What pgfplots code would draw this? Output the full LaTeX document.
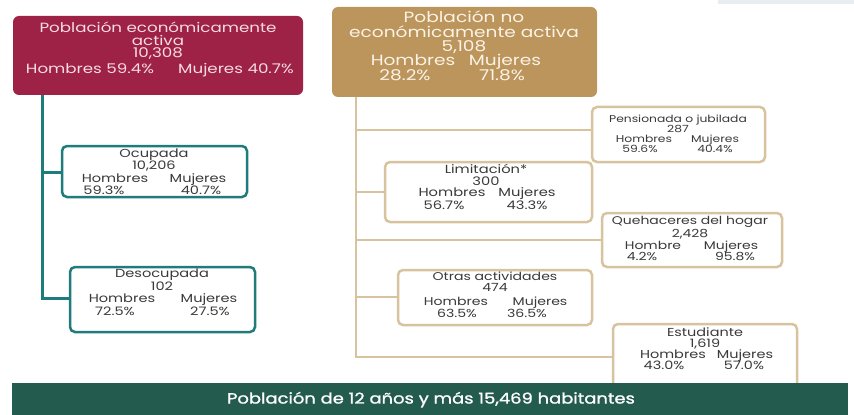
\documentclass[border=0pt]{standalone}
\usepackage{pgfplots}
\pgfplotsset{compat=1.18}
\usepackage{fontspec}
\setmainfont{Poppins}
\newfontfamily\pop[FakeStretch=1.25]{Poppins}
\newfontfamily\popb[FakeStretch=1.2,FakeBold=1.2]{Poppins}
\definecolor{guinda}{HTML}{9E2146}
\definecolor{guindatxt}{HTML}{F6DCE3}
\definecolor{dorado}{HTML}{BC955C}
\definecolor{doradotxt}{HTML}{FBF3E6}
\definecolor{tealL}{HTML}{1F7C7A}
\definecolor{tanc}{HTML}{D8C39F}
\definecolor{verde}{HTML}{235B4E}
\definecolor{txt}{HTML}{3A3A3A}
\definecolor{faint}{HTML}{E8EEF0}
\newcommand{\fs}[1]{\pop\fontsize{#1}{#1}\selectfont}
\newcommand{\T}[4]{\node[font=#1, text=#2, inner sep=0pt, text height=0.72em, text depth=0pt, anchor=center] at (axis cs:#3) {#4};}
\begin{document}
\begin{tikzpicture}
\begin{axis}[scale only axis, width=854bp, height=415bp, xmin=0, xmax=854, ymin=0, ymax=415, y dir=reverse, hide axis, clip=false]
\path (axis cs:0,0) rectangle (axis cs:854,415);
\fill[faint] (axis cs:718,0) rectangle (axis cs:854,4);
% connector lines
\addplot[tealL, line width=3bp, no markers] coordinates {(42,95) (42,299.5)};
\addplot[tealL, line width=3bp, no markers] coordinates {(42,172) (62,172)};
\addplot[tealL, line width=3bp, no markers] coordinates {(40.5,298) (70,298)};
\addplot[tanc, line width=2.5bp, no markers] coordinates {(356,96) (356,358)};
\addplot[tanc, line width=2.5bp, no markers] coordinates {(356,130) (592,130)};
\addplot[tanc, line width=2.5bp, no markers] coordinates {(356,192) (385,192)};
\addplot[tanc, line width=2.5bp, no markers] coordinates {(356,240) (602,240)};
\addplot[tanc, line width=2.5bp, no markers] coordinates {(356,297) (398,297)};
\addplot[tanc, line width=2.5bp, no markers] coordinates {(354.8,357) (613,357)};
% top boxes
\fill[guinda, rounded corners=6bp] (axis cs:13,16) rectangle (axis cs:303,95);
\T{\fs{13.4}}{guindatxt}{158,29}{Población económicamente}
\T{\fs{13.4}}{guindatxt}{158,42}{activa}
\T{\fs{13.4}}{guindatxt}{158,54}{10,308}
\T{\fs{13.4}}{guindatxt}{90,70}{Hombres 59.4\%}
\T{\fs{13.4}}{guindatxt}{236,70}{Mujeres 40.7\%}
\fill[dorado, rounded corners=6bp] (axis cs:332,7) rectangle (axis cs:597,97);
\T{\fs{14.9}}{doradotxt}{464,19}{Población no}
\T{\fs{14.9}}{doradotxt}{464,34}{económicamente activa}
\T{\fs{14.9}}{doradotxt}{464,48}{5,108}
\T{\fs{14.9}}{doradotxt}{413,62}{Hombres}
\T{\fs{14.9}}{doradotxt}{505,62}{Mujeres}
\T{\fs{14.9}}{doradotxt}{405,77}{28.2\%}
\T{\fs{14.9}}{doradotxt}{502,77}{71.8\%}
% teal boxes
\draw[tealL, line width=2.5bp, fill=white, rounded corners=5bp] (axis cs:62,146) rectangle (axis cs:247,197);
\T{\fs{11.7}}{txt}{154,154}{Ocupada}
\T{\fs{11.7}}{txt}{154,166}{10,206}
\T{\fs{11.7}}{txt}{115,179}{Hombres}
\T{\fs{11.7}}{txt}{198,179}{Mujeres}
\T{\fs{11.7}}{txt}{104,191}{59.3\%}
\T{\fs{11.7}}{txt}{201,191}{40.7\%}
\draw[tealL, line width=2.5bp, fill=white, rounded corners=5bp] (axis cs:70,267) rectangle (axis cs:255,332);
\T{\fs{11.7}}{txt}{162,274}{Desocupada}
\T{\fs{11.7}}{txt}{162,287}{102}
\T{\fs{11.7}}{txt}{122,299}{Hombres}
\T{\fs{11.7}}{txt}{209,299}{Mujeres}
\T{\fs{11.7}}{txt}{115,312}{72.5\%}
\T{\fs{11.7}}{txt}{210,312}{27.5\%}
% tan boxes
\draw[tanc, line width=2.5bp, fill=white, rounded corners=5bp] (axis cs:592,107) rectangle (axis cs:765,162);
\T{\fs{9.9}}{txt}{678,119}{Pensionada o jubilada}
\T{\fs{9.9}}{txt}{678,129}{287}
\T{\fs{9.9}}{txt}{644,139}{Hombres}
\T{\fs{9.9}}{txt}{715,139}{Mujeres}
\T{\fs{9.9}}{txt}{640,149}{59.6\%}
\T{\fs{9.9}}{txt}{715,149}{40.4\%}
\draw[tanc, line width=2.5bp, fill=white, rounded corners=5bp] (axis cs:385,162) rectangle (axis cs:592,222);
\T{\fs{11.8}}{txt}{486,170}{Limitación*}
\T{\fs{11.8}}{txt}{486,182}{300}
\T{\fs{11.8}}{txt}{452,193}{Hombres}
\T{\fs{11.8}}{txt}{527,193}{Mujeres}
\T{\fs{11.8}}{txt}{444,206}{56.7\%}
\T{\fs{11.8}}{txt}{527,206}{43.3\%}
\draw[tanc, line width=2.5bp, fill=white, rounded corners=5bp] (axis cs:602,213) rectangle (axis cs:782,267);
\T{\fs{11.2}}{txt}{690,221}{Quehaceres del hogar}
\T{\fs{11.2}}{txt}{690,234}{2,428}
\T{\fs{11.2}}{txt}{653,246}{Hombre}
\T{\fs{11.2}}{txt}{731,246}{Mujeres}
\T{\fs{11.2}}{txt}{642,257}{4.2\%}
\T{\fs{11.2}}{txt}{735,257}{95.8\%}
\draw[tanc, line width=2.5bp, fill=white, rounded corners=5bp] (axis cs:398,270) rectangle (axis cs:592,325);
\T{\fs{11.3}}{txt}{495,277}{Otras actividades}
\T{\fs{11.3}}{txt}{495,288}{474}
\T{\fs{11.3}}{txt}{456,302}{Hombres}
\T{\fs{11.3}}{txt}{540,302}{Mujeres}
\T{\fs{11.3}}{txt}{457,314}{63.5\%}
\T{\fs{11.3}}{txt}{527,314}{36.5\%}
\draw[tanc, line width=2.5bp, fill=white, rounded corners=5bp] (axis cs:613,324) rectangle (axis cs:797,392);
\T{\fs{11.6}}{txt}{705,333}{Estudiante}
\T{\fs{11.6}}{txt}{705,344}{1,619}
\T{\fs{11.6}}{txt}{673,355}{Hombres}
\T{\fs{11.6}}{txt}{745,355}{Mujeres}
\T{\fs{11.6}}{txt}{664,366}{43.0\%}
\T{\fs{11.6}}{txt}{744,366}{57.0\%}
% bottom band
\fill[verde] (axis cs:12,383) rectangle (axis cs:848,415);
\node[font={\popb\fontsize{15}{15}\selectfont}, text=white, inner sep=0pt, text height=0.72em, text depth=0pt, anchor=center] at (axis cs:431,400) {Población de 12 años y más 15,469 habitantes};
\end{axis}
\end{tikzpicture}
\end{document}
